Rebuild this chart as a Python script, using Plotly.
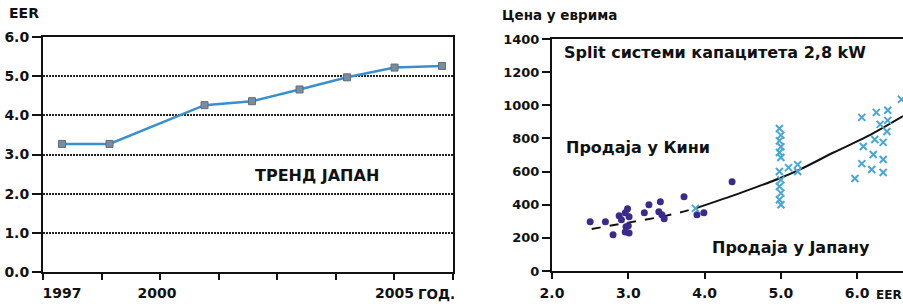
import numpy as np
import plotly.graph_objects as go

# ---------------- data ----------------
# Left: EER trend in Japan
trend_years = [1998, 1999, 2001, 2002, 2003, 2004, 2005, 2006]
trend_eer = [3.27, 3.27, 4.26, 4.36, 4.66, 4.97, 5.22, 5.26]
year_tick_vals = [1998, 2000, 2005]
year_tick_text = ["1997", "2000", "2005"]
eer_ticks = [0, 1, 2, 3, 4, 5, 6]

# Right: price vs EER
china_eer = [2.5, 2.7, 2.8, 2.88, 2.91, 2.96, 2.96, 2.97, 2.99, 3.01, 3.0, 3.01,
             3.21, 3.27, 3.42, 3.4, 3.44, 3.47, 3.73, 3.9, 3.99, 4.36]
china_price = [297, 297, 218, 333, 309, 351, 236, 267, 376, 327, 273, 230,
               351, 400, 418, 358, 339, 315, 448, 339, 351, 539]

japan_eer = [3.88,
             4.98, 5.0, 4.98, 5.0, 4.98, 5.0, 4.98, 5.0, 4.98, 5.0, 4.98, 5.0,
             5.1, 5.22, 5.22,
             5.97, 6.06, 6.06, 6.08, 6.19, 6.21, 6.23, 6.25, 6.3, 6.34, 6.34,
             6.34, 6.39, 6.4, 6.4, 6.58]
japan_price = [378,
               860, 820, 785, 750, 715, 685, 600, 550, 510, 470, 430, 400,
               624, 642, 600,
               558, 927, 648, 751, 612, 703, 794, 957, 885, 776, 673,
               594, 842, 970, 909, 1036]

china_trend_x = [2.52, 3.0, 3.5, 3.88]
china_trend_y = [254, 292, 334, 378]
japan_trend_x = [3.88, 4.48, 5.0, 5.26, 5.69, 6.13, 6.6]
japan_trend_y = [378, 473, 563, 615, 715, 812, 935]
price_ticks = [0, 200, 400, 600, 800, 1000, 1200, 1400]
eer_x_ticks = [2, 3, 4, 5, 6]

# ---------------- figure ----------------
W, H = 903, 307
FONT = "DejaVu Sans"
TXT = "#111111"


def px(v):
    return v / W


def py(v):
    return 1 - v / H


fig = go.Figure()

fig.add_trace(go.Scatter(
    x=trend_years, y=trend_eer, mode="lines+markers",
    line=dict(color="#3a8fcf", width=2.5),
    marker=dict(symbol="square", size=7, color="#7d8c9c",
                line=dict(color="#5c6e80", width=1)),
    xaxis="x", yaxis="y", showlegend=False, hoverinfo="skip"))

fig.add_trace(go.Scatter(
    x=china_trend_x, y=china_trend_y, mode="lines",
    line=dict(color="#111111", width=2, dash="dash", shape="spline"),
    xaxis="x2", yaxis="y2", showlegend=False))
fig.add_trace(go.Scatter(
    x=japan_trend_x, y=japan_trend_y, mode="lines",
    line=dict(color="#111111", width=2, shape="spline"),
    xaxis="x2", yaxis="y2", showlegend=False))
fig.add_trace(go.Scatter(
    x=china_eer, y=china_price, mode="markers",
    marker=dict(symbol="circle", size=7, color="#3b2a8c"),
    xaxis="x2", yaxis="y2", showlegend=False))
fig.add_trace(go.Scatter(
    x=japan_eer, y=japan_price, mode="markers",
    marker=dict(symbol="x-thin", size=7, color="#4aa6d6",
                line=dict(color="#4aa6d6", width=2)),
    xaxis="x2", yaxis="y2", showlegend=False))

tickfont = dict(family=FONT, size=14, color=TXT, weight="bold")

x_lo, x_hi = 1997.6, 2006.23
fig.update_layout(
    width=W, height=H,
    margin=dict(l=0, r=0, t=0, b=0, autoexpand=False),
    paper_bgcolor="white", plot_bgcolor="white",
    xaxis=dict(
        domain=[px(43), px(453)], range=[x_lo, x_hi], automargin=False,
        tickvals=year_tick_vals, ticktext=year_tick_text, ticks="",
        ticklabelstandoff=7,
        tickfont=tickfont, showgrid=False, zeroline=False,
        showline=True, linecolor="#111", linewidth=2, mirror=True,
        minor=dict(tickvals=list(np.linspace(x_lo, x_hi, 8)), ticks="outside",
                   ticklen=6, tickwidth=2, tickcolor="#111", showgrid=False),
        anchor="y", fixedrange=True),
    yaxis=dict(
        domain=[py(272), py(37)], range=[0, 6], automargin=False,
        tickvals=eer_ticks, tickformat=".1f", ticks="outside", ticklen=9,
        tickwidth=2, tickcolor="#111", tickfont=tickfont,
        showgrid=True, gridcolor="#222", gridwidth=1.5, griddash="2px,1px",
        zeroline=False, showline=True, linecolor="#111", linewidth=2,
        mirror=True, anchor="x", fixedrange=True),
    xaxis2=dict(
        domain=[px(552), 1.0], range=[2.0, 6.6], automargin=False,
        tickvals=eer_x_ticks, tickformat=".1f", ticks="outside", ticklen=6,
        ticklabelstandoff=2,
        tickwidth=2, tickcolor="#111", tickfont=tickfont,
        showgrid=False, zeroline=False, showline=True, linecolor="#111",
        linewidth=2, mirror=True, anchor="y2", fixedrange=True),
    yaxis2=dict(
        domain=[py(271), py(39)], range=[0, 1400], automargin=False,
        tickvals=price_ticks, ticks="outside", ticklen=8, tickwidth=2,
        tickcolor="#111", tickfont=dict(family=FONT, size=13, color=TXT, weight="bold"),
        showgrid=False, zeroline=False, showline=True, linecolor="#111",
        linewidth=2, anchor="x2", fixedrange=True),
)


def note(text, x, y, size, xanchor="left"):
    fig.add_annotation(text=text, x=px(x), y=py(y), xref="paper", yref="paper",
                       showarrow=False, xanchor=xanchor, yanchor="middle",
                       font=dict(family=FONT, size=size, color=TXT, weight="bold"))


note("EER", 7, 13, 14)
note("ТРЕНД ЈАПАН", 317, 175, 16, "center")
note("ГОД.", 416, 294, 13.5)
note("Цена у еврима", 500, 15, 13.5)
note("Split системи капацитета 2,8 kW", 562, 53, 16)
note("Продаја у Кини", 564, 147, 16)
note("Продаја у Јапану", 710, 247, 16)
note("EER", 874, 295, 12)

fig.write_html(
    "out.html",
    config={"displayModeBar": False},
    post_script="document.body.style.margin='0';document.body.style.padding='0';"
                "document.body.style.overflow='hidden';",
)
